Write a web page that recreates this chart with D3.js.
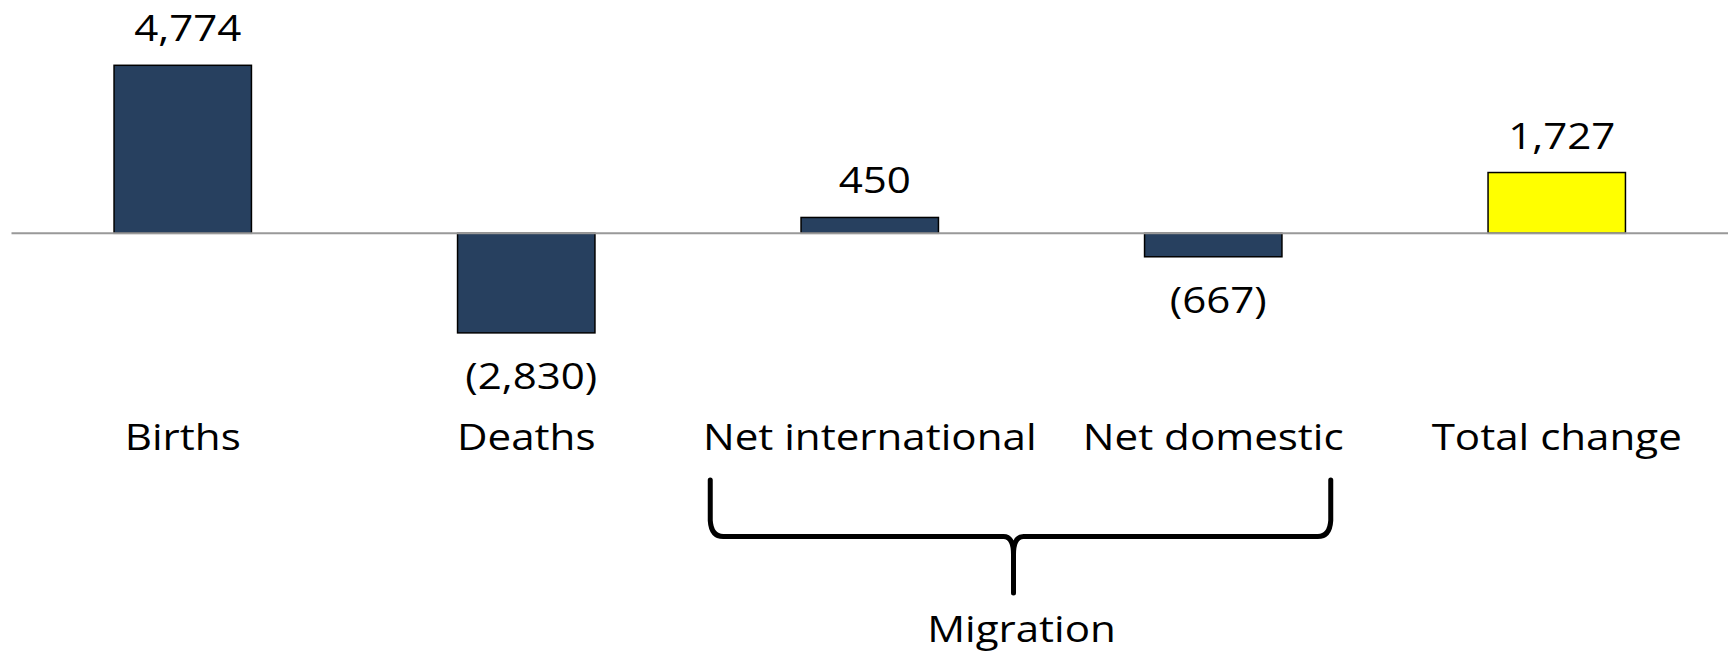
<!DOCTYPE html>
<html>
<head>
<meta charset="utf-8">
<script src="https://cdn.jsdelivr.net/npm/d3@7"></script>
<style>
  html, body { margin: 0; padding: 0; background: #fff; }
  svg { display: block; }
  text { font-family: "Open Sans", "Noto Sans", sans-serif; fill: #000; }
</style>
</head>
<body>
<svg id="chart" width="1731" height="654"></svg>
<script>
const categories = ["Births", "Deaths", "Net international", "Net domestic", "Total change"];
const values = [4774, -2830, 450, -667, 1727];
const valueLabels = ["4,774", "(2,830)", "450", "(667)", "1,727"];
const isTotal = [false, false, false, false, true];
const groupLabel = "Migration";
const groupMembers = ["Net international", "Net domestic"];

(function () {
const svg = d3.select("#chart");
const fontSize = 36, sx = 1.17;

const x = d3.scaleBand().domain(categories).range([11, 1728.5]).paddingInner(0.6).paddingOuter(0.3);
const y = d3.scaleLinear().domain([0, 4774]).range([233.3, 65.3]);

// bars
svg.selectAll("rect.bar").data(categories).join("rect")
  .attr("class", "bar")
  .attr("x", d => x(d))
  .attr("width", x.bandwidth())
  .attr("y", (d, i) => Math.min(y(values[i]), y(0)))
  .attr("height", (d, i) => Math.abs(y(values[i]) - y(0)))
  .attr("fill", (d, i) => isTotal[i] ? "#FFFF00" : "#27405F")
  .attr("stroke", "#000")
  .attr("stroke-width", 1.5);

// zero axis line
svg.append("line")
  .attr("x1", 11.5).attr("x2", 1728)
  .attr("y1", y(0)).attr("y2", y(0))
  .attr("stroke", "#999").attr("stroke-width", 2);

const cx = d => x(d) + x.bandwidth() / 2;

// value labels
svg.selectAll("text.val").data(categories).join("text")
  .attr("class", "val")
  .attr("text-anchor", "middle")
  .attr("font-size", fontSize)
  .attr("transform", (d, i) => {
    const v = values[i];
    const ty = v >= 0 ? y(v) - 24 : y(v) + 56;
    return `translate(${cx(d) + 5},${ty}) scale(${sx},1)`;
  })
  .text((d, i) => valueLabels[i]);

// category labels
svg.selectAll("text.cat").data(categories).join("text")
  .attr("class", "cat")
  .attr("text-anchor", "middle")
  .attr("font-size", fontSize)
  .attr("transform", d => `translate(${cx(d)},450) scale(${sx},1)`)
  .text(d => d);

// brace under migration categories
const bl = cx(groupMembers[0]) - 159.5;
const br = cx(groupMembers[1]) + 117.5;
const tip = (bl + br) / 2 - 7;
const braceTop = 480, hy = 536.5, tipY = 593;
const p = d3.path();
p.moveTo(bl, braceTop);
p.lineTo(bl, hy - 16);
p.quadraticCurveTo(bl + 1, hy, bl + 13, hy);
p.lineTo(tip - 10, hy);
p.quadraticCurveTo(tip, hy, tip, hy + 18);
p.lineTo(tip, tipY);
p.moveTo(tip, hy + 18);
p.quadraticCurveTo(tip, hy, tip + 10, hy);
p.lineTo(br - 13, hy);
p.quadraticCurveTo(br - 1, hy, br, hy - 16);
p.lineTo(br, braceTop);
svg.append("path")
  .attr("d", p.toString())
  .attr("fill", "none")
  .attr("stroke", "#000")
  .attr("stroke-width", 5)
  .attr("stroke-linecap", "round")
  .attr("stroke-linejoin", "round");

svg.append("text")
  .attr("text-anchor", "middle")
  .attr("font-size", fontSize)
  .attr("transform", `translate(${tip + 8},642) scale(${sx},1)`)
  .text(groupLabel);
})();
</script>
</body>
</html>
